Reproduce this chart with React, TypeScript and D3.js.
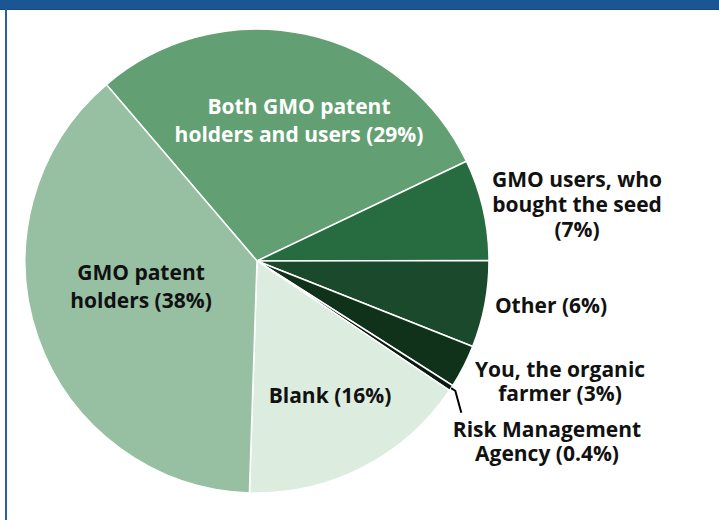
import React, { useEffect, useRef } from 'react';
import * as d3 from 'd3';

// pie slices, clockwise from the upper-left edge
const categories = [
  'Both GMO patent holders and users',
  'GMO users, who bought the seed',
  'Other',
  'You, the organic farmer',
  'Risk Management Agency',
  'Blank',
  'GMO patent holders',
];
const values = [29, 7, 6, 3, 0.4, 16, 38];
const labelLines = [
  ['Both GMO patent', 'holders and users (29%)'],
  ['GMO users, who', 'bought the seed', '(7%)'],
  ['Other (6%)'],
  ['You, the organic', 'farmer (3%)'],
  ['Risk Management', 'Agency (0.4%)'],
  ['Blank (16%)'],
  ['GMO patent', 'holders (38%)'],
];
const colors = ['#62a073', '#276b40', '#1a4a2b', '#10321a', '#0b1a0f', '#dcede0', '#97c0a2'];

const W = 719;
const H = 520;

const App = () => {
  const ref = useRef<SVGSVGElement | null>(null);

  useEffect(() => {
    if (!ref.current) return;
    const svg = d3.select(ref.current);
    svg.selectAll('*').remove();

    const cx = 257;
    const cy = 261;
    const R = 232;

    // frame: blue top band and left rule
    svg.append('rect').attr('x', 0).attr('y', 0).attr('width', W).attr('height', 9).attr('fill', '#1a5694');
    svg.append('rect').attr('x', 0).attr('y', 9).attr('width', W).attr('height', 1).attr('fill', '#174a80');
    svg.append('rect').attr('x', 5).attr('y', 9).attr('width', 2).attr('height', H - 9).attr('fill', '#2a62a0');

    const start = (-40.5 * Math.PI) / 180;
    const pie = d3.pie<number>().sort(null).value((d) => d)
      .startAngle(start).endAngle(start + 2 * Math.PI);
    const arcs = pie(values);
    const arc = d3.arc<d3.PieArcDatum<number>>().innerRadius(0).outerRadius(R);

    const g = svg.append('g').attr('transform', `translate(${cx},${cy})`);
    g.selectAll('path.slice')
      .data(arcs)
      .enter().append('path')
      .attr('class', 'slice')
      .attr('d', arc)
      .attr('fill', (_d, i) => colors[i])
      .attr('stroke', '#fff')
      .attr('stroke-width', 1.5)
      .append('title').text((_d, i) => categories[i]);

    // leader for the thin Risk Management slice
    const risk = arcs[4];
    const mid = (risk.startAngle + risk.endAngle) / 2;
    const p0 = [Math.sin(mid) * R, -Math.cos(mid) * R];
    const p1 = [Math.sin(mid) * (R + 5), -Math.cos(mid) * (R + 5)];
    g.append('path')
      .attr('d', d3.line()([[p0[0], p0[1]], [p1[0], p1[1]], [p1[0] + 6, p1[1] + 22]]))
      .attr('fill', 'none')
      .attr('stroke', '#000')
      .attr('stroke-width', 2);

    // label anchors: centre x, first baseline, line height (relative to pie centre)
    const labelPos = [
      [42, -147, 28], [320, -74, 25], [294, 52, 0], [303, 116, 24],
      [290, 176, 24], [73, 142, 0], [-116, 19, 28],
    ];
    labelLines.forEach((lines, i) => {
      const [dx, dy, lh] = labelPos[i];
      const t = g.append('text')
        .attr('x', dx)
        .attr('y', dy)
        .attr('text-anchor', 'middle')
        .attr('font-family', '"Open Sans", sans-serif')
        .attr('font-weight', 700)
        .attr('font-size', 21)
        .attr('fill', i === 0 ? '#fff' : '#111');
      lines.forEach((line, j) => {
        t.append('tspan').attr('x', dx).attr('y', dy + j * lh).text(line);
      });
    });
  }, []);

  return (
    <svg ref={ref} width={W} height={H}
      style={{ position: 'absolute', left: 0, top: 0, background: '#fff' }} />
  );
};

export default App;
